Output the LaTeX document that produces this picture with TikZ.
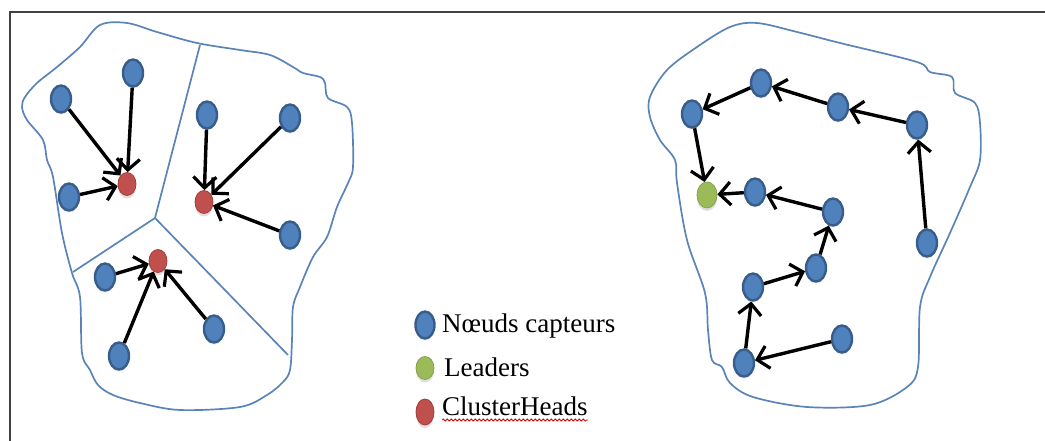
\documentclass[tikz,border=0pt]{standalone}
\usepackage{fontspec}
\setmainfont{Liberation Serif}
\usetikzlibrary{shapes.geometric,arrows.meta,shadows,decorations.pathmorphing}

\definecolor{sensorblue}{HTML}{4F81BD}
\definecolor{sensoredge}{HTML}{385D8A}
\definecolor{headred}{HTML}{C0504D}
\definecolor{headedge}{HTML}{A33E3B}
\definecolor{leadgreen}{HTML}{9BBB59}
\definecolor{leadedge}{HTML}{85A34A}
\definecolor{zoneline}{HTML}{5A84B8}

\tikzset{
  sensor/.style={ellipse, minimum width=20pt, minimum height=27pt, inner sep=0pt,
    fill=sensorblue, draw=sensoredge, line width=2.4pt,
    drop shadow={opacity=0.22, shadow xshift=0pt, shadow yshift=-2pt}},
  chead/.style={ellipse, minimum width=18pt, minimum height=23pt, inner sep=0pt,
    fill=headred, draw=headedge, line width=0.8pt,
    drop shadow={opacity=0.25, shadow xshift=0pt, shadow yshift=-3pt}},
  leader/.style={ellipse, minimum width=20pt, minimum height=26pt, inner sep=0pt,
    fill=leadgreen, draw=leadedge, line width=0.8pt,
    drop shadow={opacity=0.25, shadow xshift=0pt, shadow yshift=-3pt}},
  link/.style={line width=3.4pt, black,
    -{Straight Barb[length=11pt,width=23pt,line width=3.2pt]}},
  zone/.style={draw=zoneline, line width=1.7pt},
  legendtext/.style={anchor=base west, inner sep=0pt,
    font=\fontsize{27}{32}\selectfont},
}

\begin{document}
\begin{tikzpicture}[x=1pt,y=-1pt]
\useasboundingbox (0,0) rectangle (1045,441);

% outer frame (only its top and left edges fall inside the page)
\draw[line width=2.2pt, black!75] (10,450) -- (10,12) -- (1055,12);

% ---------- clustered network ----------
\draw[zone] plot[smooth cycle, tension=0.55] coordinates {
  (100,25) (127,23) (157,32) (197,43) (240,50) (270,55) (293,67) (303,73)
  (320,77) (325,83) (328,98) (347,107) (352,123) (353,167) (348,183)
  (337,207) (327,237) (313,257) (300,287) (293,307) (292,340) (290,370)
  (283,382) (267,395) (240,407) (180,410) (140,403) (113,395) (98,385)
  (90,370) (82,353) (80,297) (72,273) (62,233) (53,177) (47,160) (43,140)
  (27,120) (22,107) (25,97) (37,83) (57,67) (80,47)};

% cluster boundaries
\coordinate (mid) at (155,218);
\coordinate (ztop) at (200,45);
\coordinate (zleft) at (73,272);
\coordinate (zright) at (288,355);
\draw[zone] (ztop) -- (mid) -- (zleft);
\draw[zone] (mid) -- (zright);

% cluster 1
\node[sensor] (a1) at (61,99) {};
\node[sensor] (a2) at (133,73) {};
\node[sensor] (a3) at (69,197) {};
\node[chead]  (h1) at (127,184) {};
% cluster 2
\node[sensor] (b1) at (207,115) {};
\node[sensor] (b2) at (290,118) {};
\node[sensor] (b3) at (290,235) {};
\node[chead]  (h2) at (204,202) {};
% cluster 3
\node[sensor] (c1) at (105,277) {};
\node[sensor] (c2) at (119,356) {};
\node[sensor] (c3) at (214,329) {};
\node[chead]  (h3) at (158,261) {};

\foreach \s/\t in {a1/h1, a2/h1, a3/h1, b1/h2, b2/h2, b3/h2, c1/h3, c2/h3, c3/h3}
  \draw[link] (\s) -- (\t);

% ---------- chain-based network ----------
\draw[zone] plot[smooth cycle, tension=0.55] coordinates {
  (757,23) (797,32) (840,43) (917,62) (930,72) (952,77) (955,93) (975,103)
  (980,123) (980,160) (970,187) (950,233) (930,277) (920,307) (918,367)
  (907,387) (870,405) (807,407) (753,397) (730,383) (722,367) (712,360)
  (708,330) (705,293) (687,240) (677,183) (675,160) (660,140) (650,117)
  (650,97) (667,70) (697,47) (730,27)};

\node[leader] (g)   at (707,195) {};
\node[sensor] (r1)  at (692,114) {};
\node[sensor] (r2)  at (761,83) {};
\node[sensor] (r3)  at (838,107) {};
\node[sensor] (r4)  at (917,125) {};
\node[sensor] (r5)  at (927,243) {};
\node[sensor] (r6)  at (755,192) {};
\node[sensor] (r7)  at (833,212) {};
\node[sensor] (r8)  at (816,268) {};
\node[sensor] (r9)  at (753,287) {};
\node[sensor] (r10) at (744,363) {};
\node[sensor] (r11) at (842,339) {};

\foreach \s/\t in {r5/r4, r4/r3, r3/r2, r2/r1, r1/g,
                   r11/r10, r10/r9, r9/r8, r8/r7, r7/r6, r6/g}
  \draw[link] (\s) -- (\t);

% ---------- legend ----------
\node[sensor, minimum width=19pt, minimum height=27pt] (k1) at (425,325) {};
\node[leader, minimum width=18pt, minimum height=23pt] (k2) at (425,368) {};
\node[chead,  minimum width=18pt, minimum height=26pt] (k3) at (425,412) {};
\node[legendtext] (t1) at (442,332) {Nœuds capteurs};
\node[legendtext] (t2) at (444,376) {Leaders};
\node[legendtext] (t3) at (442,415) {ClusterHeads};
\draw[red!85!black, line width=0.8pt,
      decorate, decoration={snake, amplitude=1pt, segment length=4pt}]
  ([yshift=-5pt]t3.base west) -- ([yshift=-5pt]t3.base east);

\end{tikzpicture}
\end{document}
